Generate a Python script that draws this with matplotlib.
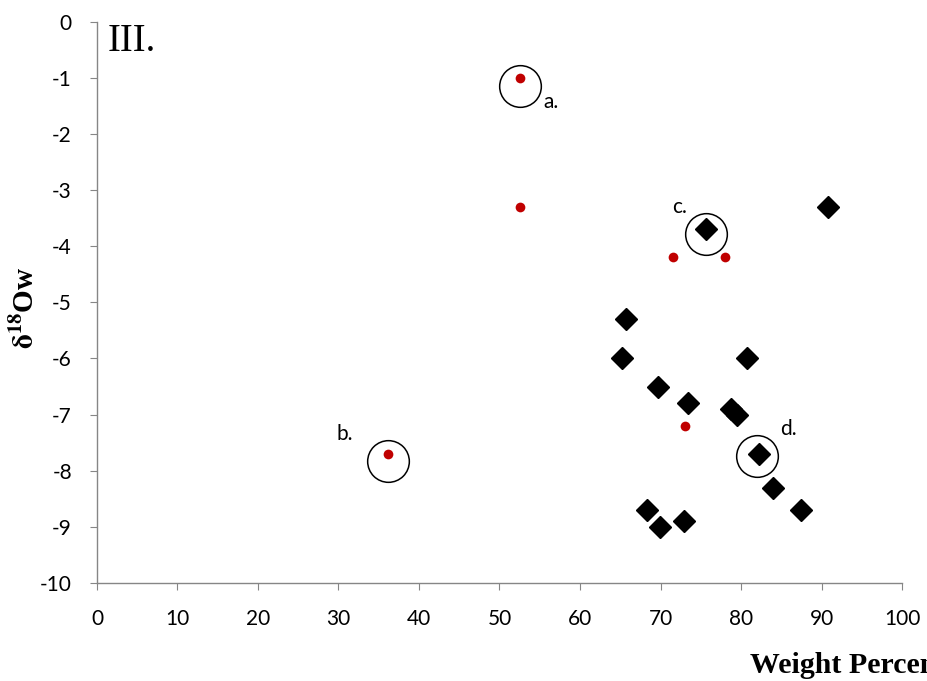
import matplotlib
matplotlib.use('Agg')
import matplotlib.pyplot as plt

# black diamonds
diamond_x = [90.8, 75.7, 65.7, 65.2, 69.7, 73.4, 80.8, 78.8, 79.5, 82.2, 84.0, 87.5, 68.3, 69.9, 72.9]
diamond_y = [-3.3, -3.7, -5.3, -6.0, -6.5, -6.8, -6.0, -6.9, -7.0, -7.7, -8.3, -8.7, -8.7, -9.0, -8.9]

# red dots
red_x = [52.5, 52.6, 71.6, 78.0, 73.1, 36.1]
red_y = [-1.0, -3.3, -4.2, -4.2, -7.2, -7.7]

# circled samples and their labels
circle_x = [52.5, 36.1, 75.7, 82.0]
circle_y = [-1.15, -7.82, -3.78, -7.74]
circle_labels = ['a.', 'b.', 'c.', 'd.']
label_x = [55.5, 29.8, 71.4, 84.8]
label_y = [-1.43, -7.35, -3.3, -7.25]

sans = 'Lato'
serif = 'Liberation Serif'

plt.rcParams['axes.unicode_minus'] = False
plt.rcParams['mathtext.fontset'] = 'stix'

fig = plt.figure(figsize=(9.28, 6.81), dpi=100)
ax = fig.add_axes([0.1045, 0.144, 0.8675, 0.824])

ax.plot(diamond_x, diamond_y, 'D', color='black', markersize=11.5, linestyle='none', zorder=3)
ax.plot(red_x, red_y, 'o', color='#C00000', markersize=7, markeredgewidth=0, linestyle='none', zorder=3)
ax.plot(circle_x, circle_y, 'o', markerfacecolor='none', markeredgecolor='black',
        markersize=30, markeredgewidth=1.1, linestyle='none', zorder=4)
for lx, ly, t in zip(label_x, label_y, circle_labels):
    ax.text(lx, ly, t, fontsize=15, family=sans, ha='left', va='center')

ax.set_xlim(0, 100)
ax.set_ylim(-10, 0)
ax.set_xticks(range(0, 101, 10))
ax.set_yticks(range(-10, 1, 1))

for s in ['top', 'right']:
    ax.spines[s].set_visible(False)
for s in ['left', 'bottom']:
    ax.spines[s].set_color('#868686')
    ax.spines[s].set_linewidth(1.0)
ax.tick_params(axis='both', direction='out', length=5, color='#868686', labelsize=15)
ax.tick_params(axis='x', pad=14)
ax.tick_params(axis='y', pad=13)
for lbl in ax.get_xticklabels() + ax.get_yticklabels():
    lbl.set_family(sans)

ax.text(0.013, 0.998, 'III.', transform=ax.transAxes, fontsize=28, family=serif, ha='left', va='top')

fig.text(0.027, 0.548, r'$\mathbf{\delta^{18}}$Ow', rotation=90, fontsize=21, family=serif,
         fontweight='bold', ha='center', va='center')
# the reference cuts this label off at the right edge
fig.text(0.808, 0.012, 'Weight Percent', fontsize=21.5, family=serif, fontweight='bold',
         ha='left', va='baseline')

fig.savefig('out.png', dpi=100)
